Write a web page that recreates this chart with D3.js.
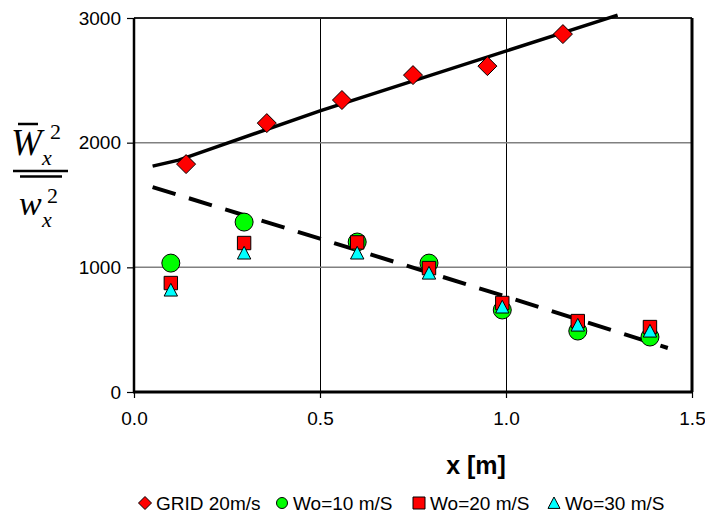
<!DOCTYPE html>
<html>
<head>
<meta charset="utf-8">
<script src="https://cdn.jsdelivr.net/npm/d3@7"></script>
<style>
  body { margin: 0; background: #fff; }
  svg { display: block; font-family: Arial, "Liberation Sans", sans-serif; }
</style>
</head>
<body>
<svg id="chart" width="705" height="515"></svg>
<script>
// series values
const gridX = [0.14, 0.357, 0.559, 0.75, 0.95, 1.153];
const gridY = [1828, 2157, 2342, 2542, 2614, 2871];

const wo10X = [0.099, 0.296, 0.6, 0.793, 0.99, 1.193, 1.387];
const wo10Y = [1034, 1363, 1203, 1034, 658, 489, 441];

const wo20X = [0.099, 0.296, 0.6, 0.793, 0.99, 1.193, 1.387];
const wo20Y = [874, 1195, 1200, 994, 714, 569, 521];

const wo30X = [0.099, 0.296, 0.6, 0.793, 0.99, 1.193, 1.387];
const wo30Y = [818, 1115, 1115, 954, 682, 537, 489];

// trend lines
const trendSolidX = [0.05, 0.12, 0.5, 1.3];
const trendSolidY = [1812, 1860, 2255, 3023];
const trendDashX = [0.05, 0.5, 1.0, 1.435];
const trendDashY = [1644, 1230, 765, 353];

const xTicks = [0, 0.5, 1.0, 1.5];
const yTicks = [0, 1000, 2000, 3000];

const legendLabels = ["GRID 20m/s", "Wo=10 m/S", "Wo=20 m/S", "Wo=30 m/S"];

const svg = d3.select("#chart");
const x = d3.scaleLinear().domain([0, 1.5]).range([134, 692]);
const y = d3.scaleLinear().domain([0, 3000]).range([392, 18]);

// gridlines
svg.selectAll("line.vgrid").data([0.5, 1.0]).join("line")
  .attr("x1", d => x(d) + 0.5).attr("x2", d => x(d) + 0.5)
  .attr("y1", y(3000)).attr("y2", y(0))
  .attr("stroke", "#000").attr("stroke-width", 1);
svg.selectAll("line.hgrid").data([1000, 2000]).join("line")
  .attr("x1", x(0)).attr("x2", x(1.5))
  .attr("y1", d => y(d)).attr("y2", d => y(d))
  .attr("stroke", "#808080").attr("stroke-width", 1.5);

// frame
svg.append("line").attr("x1", x(0)).attr("x2", x(1.5)).attr("y1", y(3000)).attr("y2", y(3000))
  .attr("stroke", "#222").attr("stroke-width", 2);
svg.append("line").attr("x1", x(1.5)).attr("x2", x(1.5)).attr("y1", y(3000)).attr("y2", y(0))
  .attr("stroke", "#000").attr("stroke-width", 3);

// axes
const yAxis = svg.append("g").attr("transform", `translate(${x(0)},0)`)
  .call(d3.axisLeft(y).tickValues(yTicks).tickFormat(d3.format("d")).tickSize(7).tickPadding(6));
const xAxis = svg.append("g").attr("transform", `translate(0,${y(0)})`)
  .call(d3.axisBottom(x).tickValues(xTicks).tickFormat(d3.format(".1f")).tickSize(6).tickPadding(14));
[yAxis, xAxis].forEach(g => {
  g.select(".domain").remove();
  g.selectAll("text").attr("font-size", 19).attr("fill", "#000")
    .attr("font-family", "Arial, 'Liberation Sans', sans-serif");
  g.selectAll(".tick line").attr("stroke", "#000").attr("stroke-width", 1.2);
});
svg.append("line").attr("x1", x(0)).attr("x2", x(0)).attr("y1", y(3000)).attr("y2", y(0))
  .attr("stroke", "#000").attr("stroke-width", 2.5);
svg.append("line").attr("x1", x(0) - 1).attr("x2", x(1.5) + 1).attr("y1", y(0)).attr("y2", y(0))
  .attr("stroke", "#000").attr("stroke-width", 3);

// trend lines
const line = d3.line().x(d => x(d[0])).y(d => y(d[1]));
svg.append("path").datum(d3.zip(trendSolidX, trendSolidY)).attr("d", line)
  .attr("fill", "none").attr("stroke", "#000").attr("stroke-width", 3.5);
svg.append("path").datum(d3.zip(trendDashX, trendDashY)).attr("d", line)
  .attr("fill", "none").attr("stroke", "#000").attr("stroke-width", 4)
  .attr("stroke-dasharray", "24,14");

// markers
const diamond = s => `M0,${-s}L${s},0L0,${s}L${-s},0Z`;
const square = s => `M${-s},${-s}H${s}V${s}H${-s}Z`;
const triangle = s => `M0,${-s}L${s},${s * 0.9}H${-s}Z`;

function drawPath(xs, ys, pathFn, fill) {
  svg.append("g").selectAll("path").data(d3.zip(xs, ys)).join("path")
    .attr("transform", d => `translate(${x(d[0])},${y(d[1])})`)
    .attr("d", pathFn).attr("fill", fill).attr("stroke", "#000").attr("stroke-width", 1);
}
drawPath(gridX, gridY, diamond(9.5), "#ff0000");
svg.append("g").selectAll("circle").data(d3.zip(wo10X, wo10Y)).join("circle")
  .attr("cx", d => x(d[0])).attr("cy", d => y(d[1])).attr("r", 9)
  .attr("fill", "#00ff00").attr("stroke", "#000").attr("stroke-width", 1);
drawPath(wo20X, wo20Y, square(6.7), "#ff0000");
drawPath(wo30X, wo30Y, triangle(6.7), "#00ffff");

// axis title
svg.append("text").attr("x", 476).attr("y", 474).attr("text-anchor", "middle")
  .attr("font-size", 25).attr("font-weight", "bold").text("x [m]");

// y label: W-bar_x^2 over overline(w_x^2)
const yl = svg.append("g").attr("font-family", "'Liberation Serif', 'Times New Roman', serif");
yl.append("text").attr("x", 11).attr("y", 155).attr("font-size", 37).attr("font-style", "italic").text("W");
yl.append("line").attr("x1", 18).attr("x2", 38).attr("y1", 124).attr("y2", 124).attr("stroke", "#000").attr("stroke-width", 2.5);
yl.append("text").attr("x", 50).attr("y", 139).attr("font-size", 22).text("2");
yl.append("text").attr("x", 42).attr("y", 165).attr("font-size", 22).attr("font-style", "italic").text("x");
yl.append("line").attr("x1", 13).attr("x2", 68).attr("y1", 171).attr("y2", 171).attr("stroke", "#000").attr("stroke-width", 2.5);
yl.append("line").attr("x1", 20).attr("x2", 62).attr("y1", 176.5).attr("y2", 176.5).attr("stroke", "#000").attr("stroke-width", 2.5);
yl.append("text").attr("x", 19).attr("y", 215).attr("font-size", 34).attr("font-style", "italic").text("w");
yl.append("text").attr("x", 47).attr("y", 203).attr("font-size", 22).text("2");
yl.append("text").attr("x", 42).attr("y", 227).attr("font-size", 22).attr("font-style", "italic").text("x");

// legend
const legendX = [145, 282, 419, 554];
const ly = 503;
const lg = svg.append("g");
lg.append("path").attr("transform", `translate(${legendX[0]},${ly})`).attr("d", diamond(6.5))
  .attr("fill", "#ff0000").attr("stroke", "#000");
lg.append("circle").attr("cx", legendX[1]).attr("cy", ly).attr("r", 5.5)
  .attr("fill", "#00ff00").attr("stroke", "#000");
lg.append("path").attr("transform", `translate(${legendX[2]},${ly})`).attr("d", square(6))
  .attr("fill", "#ff0000").attr("stroke", "#000");
lg.append("path").attr("transform", `translate(${legendX[3]},${ly})`).attr("d", triangle(6))
  .attr("fill", "#00ffff").attr("stroke", "#000");
lg.selectAll("text").data(legendLabels).join("text")
  .attr("x", (d, i) => legendX[i] + 11).attr("y", ly + 7)
  .attr("font-size", 19).text(d => d);
</script>
</body>
</html>
